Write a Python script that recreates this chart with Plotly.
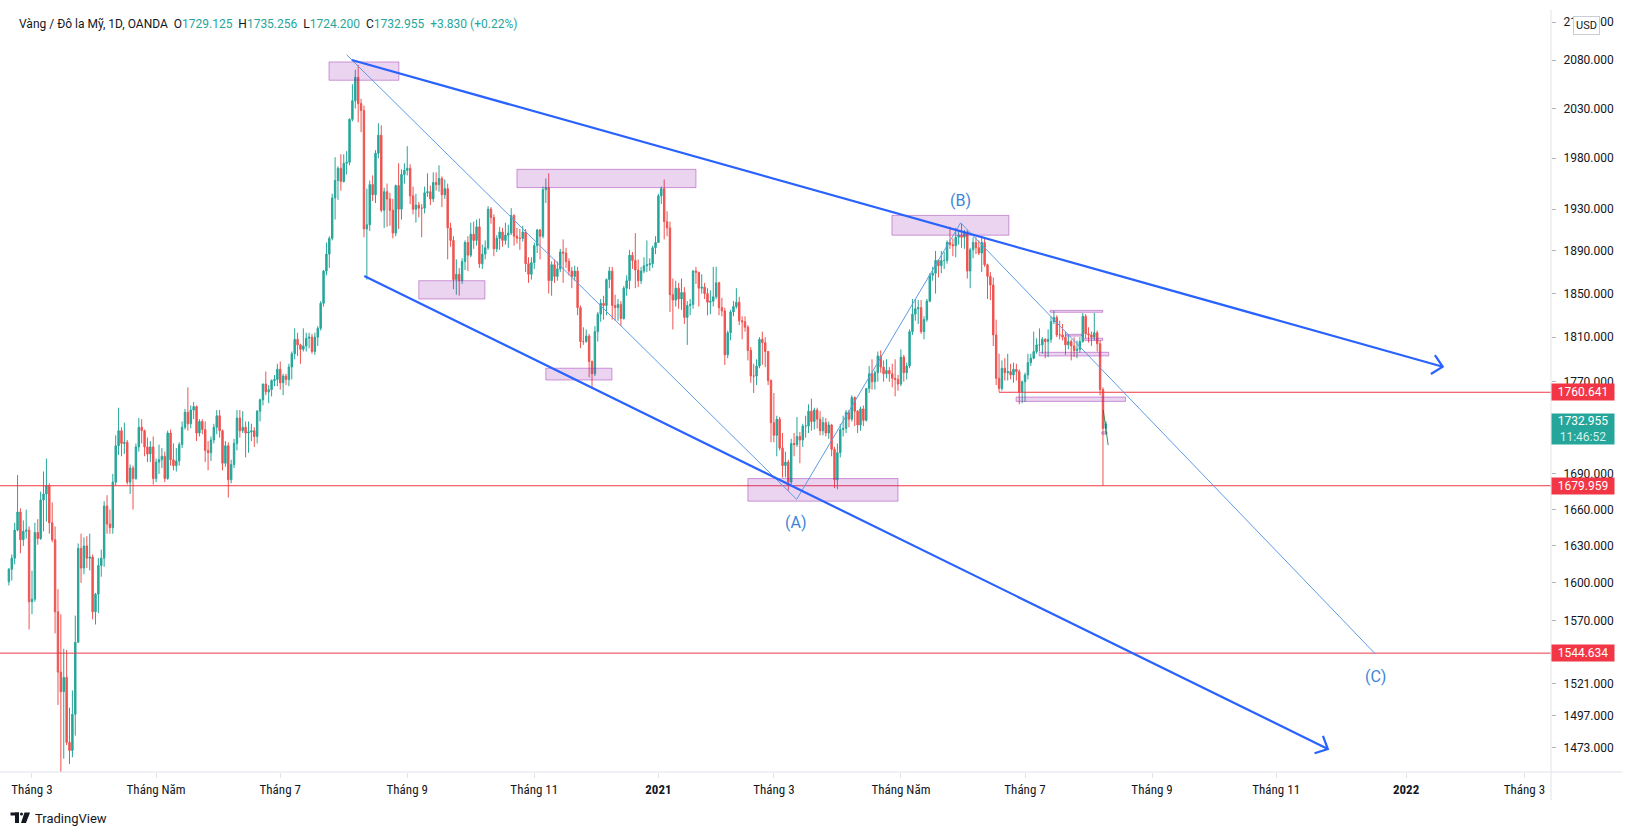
import math
import sys
import pandas as pd
import plotly.graph_objects as go

# ---------------- DATA (daily OHLC, XAU/USD OANDA) ----------------
feb20 = [(1601,1612,1598,1611),(1611,1623,1602,1620),(1620,1649,1615,1643),(1643,1689,1642,1658),(1658,1661,1624,1635),(1635,1651,1630,1642),(1642,1660,1636,1643),(1643,1646,1563,1585)]
mar20 = [(1585,1610,1575,1587),(1587,1649,1585,1641),(1641,1652,1631,1636),(1636,1675,1635,1668),(1668,1692,1642,1673),(1673,1703,1650,1680),(1680,1682,1640,1649),(1649,1666,1633,1635),(1635,1646,1560,1577),(1577,1595,1505,1530),(1530,1575,1451,1515),(1515,1548,1465,1526),(1526,1547,1475,1477),(1477,1503,1461,1471),(1471,1516,1466,1498),(1498,1574,1482,1553),(1553,1632,1553,1628),(1628,1640,1600,1612),(1612,1637,1607,1630),(1630,1638,1612,1620),(1620,1640,1610,1621),(1621,1623,1571,1577)]
apr20 = [(1577,1592,1567,1591),(1591,1620,1576,1614),(1614,1627,1605,1620),(1620,1667,1613,1663),(1663,1672,1640,1648),(1648,1660,1640,1645),(1645,1690,1640,1683),(1683,1723,1680,1714),(1714,1747,1706,1727),(1727,1730,1705,1716),(1716,1734,1707,1717),(1717,1719,1681,1683),(1683,1698,1673,1695),(1695,1697,1660,1686),(1686,1716,1685,1713),(1713,1738,1709,1730),(1730,1737,1716,1727),(1727,1728,1705,1713),(1713,1721,1700,1707),(1707,1718,1700,1713),(1713,1722,1681,1686)]
may20 = [(1686,1703,1683,1700),(1700,1715,1690,1702),(1702,1712,1695,1705),(1705,1709,1683,1686),(1686,1727,1685,1725),(1725,1728,1697,1702),(1702,1716,1693,1697),(1697,1712,1692,1701),(1701,1717,1697,1715),(1715,1735,1712,1730),(1730,1746,1728,1743),(1743,1765,1727,1733),(1733,1749,1729,1745),(1745,1752,1737,1748),(1748,1749,1718,1725),(1725,1737,1722,1735),(1735,1737,1724,1728),(1728,1735,1700,1710),(1710,1718,1693,1708),(1708,1722,1701,1719),(1719,1733,1716,1730)]
jun20 = [(1730,1745,1724,1740),(1740,1745,1721,1727),(1727,1728,1693,1699),(1699,1718,1696,1714),(1714,1717,1670,1685),(1685,1702,1682,1698),(1698,1720,1695,1716),(1716,1745,1710,1738),(1738,1745,1721,1727),(1727,1744,1725,1730),(1730,1735,1704,1725),(1725,1735,1708,1726),(1726,1733,1718,1727),(1727,1730,1713,1722),(1722,1745,1716,1744),(1744,1755,1735,1754),(1754,1768,1749,1768),(1768,1779,1758,1761),(1761,1767,1751,1763),(1763,1772,1757,1771),(1771,1776,1766,1772),(1772,1786,1766,1781)]
jul20 = [(1781,1788,1763,1769),(1769,1777,1758,1775),(1775,1777,1767,1772),(1772,1786,1766,1783),(1783,1797,1772,1795),(1795,1818,1790,1808),(1808,1814,1793,1803),(1803,1804,1786,1799),(1799,1818,1797,1802),(1802,1814,1797,1809),(1809,1814,1800,1810),(1810,1813,1795,1797),(1797,1814,1794,1810),(1810,1820,1802,1818),(1818,1843,1816,1841),(1841,1872,1838,1871),(1871,1898,1867,1887),(1887,1904,1874,1902),(1902,1945,1900,1941),(1941,1981,1920,1958),(1958,1972,1939,1970),(1970,1984,1948,1957),(1957,1984,1956,1975)]
aug20 = [(1975,1987,1964,1976),(1976,2020,1973,2019),(2019,2055,2017,2038),(2038,2070,2030,2062),(2062,2075,2016,2035),(2035,2040,2006,2028),(2028,2033,1903,1911),(1911,1950,1863,1915),(1915,1958,1909,1954),(1954,1963,1938,1944),(1944,1988,1936,1985),(1985,2015,1980,2003),(2003,2013,1927,1929),(1929,1951,1912,1947),(1947,1955,1913,1940),(1940,1946,1914,1929),(1929,1940,1902,1907),(1907,1954,1904,1953),(1953,1975,1911,1930),(1930,1969,1920,1964),(1964,1975,1955,1968)]
sep20 = [(1968,1992,1963,1970),(1970,1974,1935,1943),(1943,1952,1925,1930),(1930,1945,1917,1934),(1934,1937,1922,1931),(1931,1935,1903,1931),(1931,1952,1926,1946),(1946,1965,1942,1947),(1947,1953,1934,1940),(1940,1966,1937,1956),(1956,1966,1948,1954),(1954,1973,1947,1960),(1960,1962,1932,1944),(1944,1959,1940,1950),(1950,1955,1882,1912),(1912,1917,1894,1900),(1900,1904,1854,1863),(1863,1882,1849,1868),(1868,1874,1848,1862),(1862,1883,1859,1880),(1880,1900,1872,1898),(1898,1904,1871,1886)]
oct20 = [(1886,1917,1884,1906),(1906,1918,1892,1900),(1900,1920,1895,1913),(1913,1921,1874,1878),(1878,1896,1873,1887),(1887,1900,1882,1893),(1893,1933,1891,1930),(1930,1932,1916,1922),(1922,1925,1885,1892),(1892,1905,1889,1902),(1902,1913,1891,1908),(1908,1912,1894,1900),(1900,1917,1896,1905),(1905,1915,1893,1907),(1907,1931,1905,1924),(1924,1925,1895,1904),(1904,1912,1897,1902),(1902,1911,1891,1902),(1902,1914,1899,1908),(1908,1911,1870,1878),(1878,1884,1860,1868),(1868,1884,1863,1879)]
nov20 = [(1879,1898,1873,1895),(1895,1911,1888,1910),(1910,1911,1882,1904),(1904,1952,1902,1949),(1949,1960,1936,1951),(1951,1965,1850,1862),(1862,1880,1848,1877),(1877,1882,1860,1866),(1866,1880,1862,1873),(1873,1892,1870,1889),(1889,1901,1860,1888),(1888,1893,1874,1880),(1880,1883,1867,1871),(1871,1875,1855,1866),(1866,1876,1862,1871),(1871,1875,1830,1837),(1837,1839,1800,1806),(1806,1819,1803,1806),(1806,1817,1805,1811),(1811,1813,1774,1788),(1788,1789,1764,1777)]
dec20 = [(1777,1820,1775,1815),(1815,1833,1806,1831),(1831,1845,1824,1841),(1841,1848,1826,1839),(1839,1864,1830,1863),(1863,1875,1855,1871),(1871,1875,1826,1839),(1839,1849,1825,1837),(1837,1845,1825,1840),(1840,1843,1820,1827),(1827,1857,1826,1855),(1855,1867,1848,1862),(1862,1891,1854,1886),(1886,1889,1873,1881),(1881,1907,1855,1872),(1872,1882,1856,1862),(1862,1875,1859,1871),(1871,1884,1869,1876),(1876,1900,1870,1877),(1877,1883,1871,1878),(1878,1895,1874,1893),(1893,1904,1887,1898)]
jan21 = [(1898,1945,1898,1943),(1943,1952,1935,1950),(1950,1959,1901,1918),(1918,1928,1904,1912),(1912,1918,1833,1849),(1849,1864,1817,1844),(1844,1862,1838,1855),(1855,1860,1836,1845),(1845,1864,1835,1851),(1851,1856,1822,1828),(1828,1843,1803,1839),(1839,1845,1830,1840),(1840,1872,1836,1871),(1871,1875,1859,1870),(1870,1870,1838,1855),(1855,1868,1850,1856),(1856,1860,1845,1850),(1850,1855,1830,1842),(1842,1853,1831,1843),(1843,1875,1838,1847)]
feb21 = [(1847,1875,1845,1860),(1860,1861,1830,1837),(1837,1846,1829,1834),(1834,1837,1785,1794),(1794,1816,1791,1814),(1814,1835,1807,1833),(1833,1843,1829,1838),(1838,1855,1836,1842),(1842,1847,1821,1825),(1825,1829,1808,1824),(1824,1829,1815,1819),(1819,1821,1789,1798),(1798,1801,1769,1775),(1775,1786,1760,1775),(1775,1790,1767,1784),(1784,1810,1782,1808),(1808,1815,1785,1805),(1805,1810,1783,1797),(1797,1797,1767,1771),(1771,1772,1717,1734)]
mar21 = [(1734,1760,1717,1723),(1723,1740,1705,1737),(1737,1739,1710,1712),(1712,1725,1687,1697),(1697,1709,1687,1700),(1700,1702,1676,1683),(1683,1720,1681,1716),(1716,1725,1705,1715),(1715,1739,1713,1722),(1722,1726,1699,1719),(1719,1733,1713,1731),(1731,1740,1721,1731),(1731,1750,1725,1744),(1744,1755,1727,1735),(1735,1747,1728,1745),(1745,1747,1729,1737),(1737,1744,1723,1727),(1727,1739,1723,1734),(1734,1738,1722,1725),(1725,1735,1720,1732),(1732,1733,1705,1711),(1711,1713,1678,1685),(1685,1716,1677,1708)]
apr21 = [(1708,1733,1704,1728),(1728,1740,1722,1729),(1729,1745,1725,1743),(1743,1745,1730,1737),(1737,1758,1735,1756),(1756,1757,1731,1744),(1744,1745,1725,1732),(1732,1748,1727,1746),(1746,1749,1731,1736),(1736,1764,1735,1764),(1764,1784,1760,1777),(1777,1790,1763,1770),(1770,1780,1763,1778),(1778,1797,1770,1793),(1793,1798,1778,1783),(1783,1789,1770,1777),(1777,1790,1773,1780),(1780,1783,1770,1777),(1777,1786,1765,1773),(1773,1790,1757,1772),(1772,1776,1762,1768)]
may21 = [(1768,1799,1766,1792),(1792,1794,1770,1778),(1778,1787,1772,1784),(1784,1817,1782,1815),(1815,1845,1812,1831),(1831,1845,1825,1836),(1836,1844,1822,1837),(1837,1844,1813,1815),(1815,1829,1808,1826),(1826,1845,1824,1843),(1843,1869,1842,1867),(1867,1875,1862,1869),(1869,1890,1850,1881),(1881,1882,1865,1876),(1876,1890,1869,1881),(1881,1889,1873,1881),(1881,1900,1878,1898),(1898,1913,1892,1896),(1896,1902,1885,1895),(1895,1912,1884,1903),(1903,1910,1896,1905)]
jun21 = [(1905,1916,1893,1903),(1903,1910,1892,1908),(1908,1910,1864,1871),(1871,1893,1855,1891),(1891,1903,1883,1898),(1898,1903,1887,1893),(1893,1900,1886,1888),(1888,1904,1870,1898),(1898,1903,1875,1877),(1877,1878,1845,1866),(1866,1870,1844,1858),(1858,1865,1802,1812),(1812,1826,1767,1773),(1773,1795,1761,1764),(1764,1789,1762,1782),(1782,1791,1771,1778),(1778,1795,1771,1779),(1779,1786,1772,1776),(1776,1787,1769,1781),(1781,1786,1771,1779),(1779,1781,1750,1761),(1761,1771,1751,1770)]
jul21 = [(1770,1778,1752,1776),(1776,1795,1772,1787),(1787,1795,1784,1791),(1791,1815,1790,1797),(1797,1809,1795,1803),(1803,1818,1797,1803),(1803,1810,1795,1808),(1808,1809,1791,1806),(1806,1817,1792,1808),(1808,1829,1805,1824),(1824,1834,1822,1828),(1828,1830,1810,1812),(1812,1825,1808,1812),(1812,1822,1807,1810),(1810,1815,1794,1803),(1803,1812,1799,1806),(1806,1808,1789,1802),(1802,1810,1792,1798),(1798,1807,1791,1799),(1799,1810,1796,1806),(1806,1832,1805,1829),(1829,1831,1809,1813)]
aug21 = [(1813,1819,1805,1812),(1812,1815,1802,1810),(1810,1832,1807,1814),(1814,1816,1797,1804),(1804,1807,1758,1763),(1763,1765,1679.959,1729),(1729.125,1735.256,1724.2,1732.955)]

month_blocks = [("2020-02-19","2020-02-29",feb20),("2020-03-01","2020-03-31",mar20),("2020-04-01","2020-04-30",apr20),
                ("2020-05-01","2020-05-31",may20),("2020-06-01","2020-06-30",jun20),("2020-07-01","2020-07-31",jul20),
                ("2020-08-01","2020-08-31",aug20),("2020-09-01","2020-09-30",sep20),("2020-10-01","2020-10-31",oct20),
                ("2020-11-01","2020-11-30",nov20),("2020-12-01","2020-12-31",dec20),("2021-01-01","2021-01-31",jan21),
                ("2021-02-01","2021-02-28",feb21),("2021-03-01","2021-03-31",mar21),("2021-04-01","2021-04-30",apr21),
                ("2021-05-01","2021-05-31",may21),("2021-06-01","2021-06-30",jun21),("2021-07-01","2021-07-31",jul21),
                ("2021-08-01","2021-08-10",aug21)]
holidays = {"2020-04-10", "2020-12-25", "2021-01-01", "2021-04-02"}

# horizontal levels (price axis labels)
level_1760 = 1760.641
level_1680 = 1679.959
level_1545 = 1544.634
last_price = 1732.955
countdown = "11:46:52"

ytick_vals = [2120, 2080, 2030, 1980, 1930, 1890, 1850, 1810, 1770, 1690, 1660, 1630, 1600, 1570, 1521, 1497, 1473]
xtick_months = [("2020-03", "Tháng 3"), ("2020-05", "Tháng Năm"), ("2020-07", "Tháng 7"), ("2020-09", "Tháng 9"),
                ("2020-11", "Tháng 11"), ("2021-01", "<b>2021</b>"), ("2021-03", "Tháng 3"), ("2021-05", "Tháng Năm"),
                ("2021-07", "Tháng 7"), ("2021-09", "Tháng 9"), ("2021-11", "Tháng 11"), ("2022-01", "<b>2022</b>"),
                ("2022-03", "Tháng 3")]

# drawings: (bar index, price)
upper_trend = [(118.8, 2080.0), (496.7, 1783.3)]
upper_arrow = [(494.0, 1793.8), (496.7, 1783.3), (492.6, 1776.8)]
lower_trend = [(123.1, 1866.4), (456.9, 1472.1)]
lower_arrow = [(455.2, 1481.8), (456.9, 1472.1), (452.3, 1469.0)]
wave_line = [(117.0, 2085.5), (272.9, 1668.5), (329.7, 1916.9), (473.4, 1543.9)]
wave_labels = [(272.5, 1649.5, "(A)"), (329.8, 1938.2, "(B)"), (473.5, 1526.5, "(C)")]
small_line = [(379.1, 1745.0), (380.8, 1714.6)]
rects = [(110.9, 135.1, 2059, 2078), (142.0, 164.9, 1845, 1862), (176.0, 238.0, 1951, 1969),
         (186.0, 208.9, 1771.5, 1782), (256.0, 308.0, 1667, 1686), (305.9, 346.4, 1905, 1924),
         (360.7, 378.9, 1832.7, 1834.5), (366.2, 371.6, 1811, 1812.6), (372.7, 378.9, 1807, 1809),
         (356.9, 381.0, 1793, 1796.3), (348.9, 386.8, 1752.6, 1756.4), (378.6, 380.4, 1724, 1726)]
level_1760_start = 343.0

# ---------------- BUILD ----------------
dates, rows = [], []
for start, end, block in month_blocks:
    ds = [d for d in pd.bdate_range(start, end) if d.strftime("%Y-%m-%d") not in holidays]
    if len(ds) != len(block):
        print("warning: count mismatch", start, len(ds), len(block), file=sys.stderr)
    n = min(len(ds), len(block))
    dates += list(ds[:n])
    rows += block[:n]

future = list(pd.bdate_range("2021-08-11", "2022-04-30"))
all_dates = dates + future
xs = list(range(len(dates)))
opens = [r[0] for r in rows]
highs = [r[1] for r in rows]
lows = [r[2] for r in rows]
closes = [r[3] for r in rows]

tickvals, ticktext = [], []
for ym, lab in xtick_months:
    for k, d in enumerate(all_dates):
        if d.strftime("%Y-%m") == ym:
            tickvals.append(k)
            ticktext.append(lab)
            break

UP = "#26a69a"
DOWN = "#ef5350"
RED = "#f23645"
BLUE = "#2962ff"
THIN = "#5d9be6"
TXT = "#131722"
AXC = "#e0e3eb"
FONT = "Roboto, 'Noto Sans', sans-serif"

W, H = 1631, 835
PW, PH = 1551, 772  # plot area in pixels (left=0, top=0)


def px(x):
    return x / PW


def py(y):
    return 1 - y / PH


fig = go.Figure()
fig.add_trace(go.Candlestick(
    x=xs, open=opens, high=highs, low=lows, close=closes,
    increasing=dict(line=dict(color=UP, width=1), fillcolor=UP),
    decreasing=dict(line=dict(color=DOWN, width=1), fillcolor=DOWN),
    whiskerwidth=0, showlegend=False, hoverinfo="skip"))

# horizontal levels
for x0, lvl in [(-20, level_1680), (-20, level_1545), (level_1760_start, level_1760)]:
    fig.add_trace(go.Scatter(x=[x0, 700], y=[lvl, lvl], mode="lines",
                             line=dict(color=RED, width=1), showlegend=False, hoverinfo="skip"))

# rectangles
for i0, i1, p0, p1 in rects:
    fig.add_trace(go.Scatter(x=[i0, i1, i1, i0, i0], y=[p0, p0, p1, p1, p0], mode="lines",
                             fill="toself", fillcolor="rgba(156,39,176,0.2)",
                             line=dict(color="rgba(156,39,176,0.45)", width=1),
                             showlegend=False, hoverinfo="skip"))


def add_line(pts, color, width):
    fig.add_trace(go.Scatter(x=[p[0] for p in pts], y=[p[1] for p in pts], mode="lines",
                             line=dict(color=color, width=width), showlegend=False, hoverinfo="skip"))


add_line(wave_line, THIN, 1)
add_line(upper_trend, BLUE, 2.2)
add_line(upper_arrow, BLUE, 2.2)
add_line(lower_trend, BLUE, 2.2)
add_line(lower_arrow, BLUE, 2.2)
add_line(small_line, "rgba(20,110,40,0.8)", 1)

annotations = []
for i, p, t in wave_labels:
    annotations.append(dict(x=i, y=math.log10(p), xref="x", yref="y", text=t, showarrow=False,
                            font=dict(family=FONT, size=16, color="#3d85d8")))

# header
G = UP
hdr = ("Vàng / Đô la Mỹ, 1D, OANDA\u00a0\u00a0O<span style='color:%s'>1729.125</span>\u00a0\u00a0"
       "H<span style='color:%s'>1735.256</span>\u00a0\u00a0L<span style='color:%s'>1724.200</span>\u00a0\u00a0"
       "C<span style='color:%s'>1732.955</span>\u00a0\u00a0<span style='color:%s'>+3.830 (+0.22%%)</span>") % (G, G, G, G, G)
annotations.append(dict(x=px(17), y=py(24), xref="paper", yref="paper", text=hdr, showarrow=False,
                        xanchor="left", yanchor="middle", font=dict(family=FONT, size=12, color=TXT)))

# price axis labels
for lvl in [level_1760, level_1680, level_1545]:
    annotations.append(dict(x=1.0, y=math.log10(lvl), xref="paper", yref="y", text="%.3f" % lvl,
                            showarrow=False, xanchor="left", yanchor="middle", bgcolor=RED,
                            width=60, height=14, borderpad=1, align="center",
                            font=dict(family=FONT, size=12, color="white")))
annotations.append(dict(x=1.0, y=math.log10(last_price) - 0.0012, xref="paper", yref="y",
                        text="%.3f<br><span style='color:#d4efec'>%s</span>" % (last_price, countdown),
                        showarrow=False, xanchor="left", yanchor="middle", bgcolor=UP,
                        width=60, height=28, borderpad=1, align="center",
                        font=dict(family=FONT, size=12, color="white")))
annotations.append(dict(x=px(1586), y=py(25), xref="paper", yref="paper", text="USD", showarrow=False,
                        xanchor="center", yanchor="middle", bgcolor="white", bordercolor="#c9ccd4",
                        borderwidth=1, borderpad=2, font=dict(family=FONT, size=11, color=TXT)))
annotations.append(dict(x=px(33), y=py(818), xref="paper", yref="paper", text="TradingView", showarrow=False,
                        xanchor="left", yanchor="middle", font=dict(family=FONT, size=13, color=TXT)))

shapes = [
    dict(type="line", xref="paper", yref="paper", x0=0, x1=px(1622), y0=py(772), y1=py(772),
         line=dict(color=AXC, width=1)),
    dict(type="line", xref="paper", yref="paper", x0=px(1551), x1=px(1551), y0=py(10), y1=py(800),
         line=dict(color=AXC, width=1)),
    # TradingView logo
    dict(type="rect", xref="paper", yref="paper", x0=px(10.5), x1=px(19), y0=py(812.5), y1=py(815.5),
         fillcolor=TXT, line=dict(width=0)),
    dict(type="rect", xref="paper", yref="paper", x0=px(15), x1=px(19), y0=py(812.5), y1=py(823),
         fillcolor=TXT, line=dict(width=0)),
    dict(type="circle", xref="paper", yref="paper", x0=px(20), x1=px(23), y0=py(812.5), y1=py(815.5),
         fillcolor=TXT, line=dict(width=0)),
    dict(type="path", xref="paper", yref="paper",
         path="M %f %f L %f %f L %f %f L %f %f Z" % (px(24.5), py(812.5), px(30), py(812.5), px(26), py(823), px(21), py(823)),
         fillcolor=TXT, line=dict(width=0)),
]

fig.update_layout(
    width=W, height=H,
    margin=dict(l=0, r=W - PW, t=0, b=H - PH),
    paper_bgcolor="white", plot_bgcolor="white",
    showlegend=False,
    font=dict(family=FONT, size=12, color=TXT),
    annotations=annotations, shapes=shapes,
    xaxis=dict(range=[-3.08, 534.2], showgrid=False, zeroline=False, showline=False,
               rangeslider=dict(visible=False), tickmode="array", tickvals=tickvals, ticktext=ticktext,
               ticks="outside", ticklen=5, tickcolor=AXC,
               tickfont=dict(family="'Liberation Sans Narrow', 'Roboto Condensed', Roboto, sans-serif", size=13, color=TXT)),
    yaxis=dict(type="log", range=[math.log10(1455.2), math.log10(2143.6)], side="right",
               showgrid=False, zeroline=False, showline=False, tickmode="array",
               tickvals=ytick_vals, ticktext=["%.3f" % v for v in ytick_vals],
               ticks="outside", ticklen=4, tickcolor="#b2b5be", ticklabelstandoff=5,
               tickfont=dict(family=FONT, size=12, color=TXT)),
)

fig.write_html("out.html", config={"displayModeBar": False})
